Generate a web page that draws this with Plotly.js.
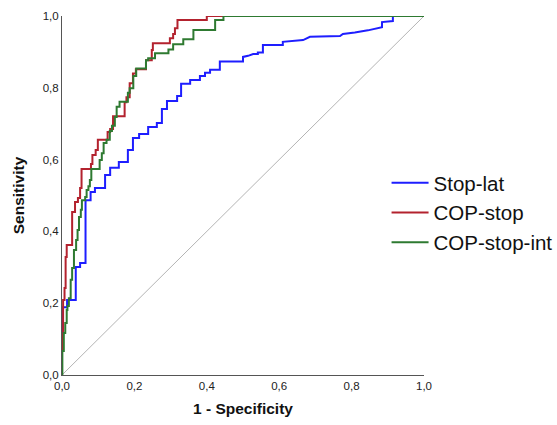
<!DOCTYPE html>
<html>
<head>
<meta charset="utf-8">
<script src="https://cdn.plot.ly/plotly-3.0.1.min.js"></script>
<style>html,body{margin:0;padding:0;background:#fff;}#chart{width:557px;height:425px;}</style>
</head>
<body>
<div id="chart"></div>
<script>
// Stop-lat (blue)
var stopLatX = [0,0,0.014,0.014,0.038,0.038,0.050,0.050,0.065,0.065,0.079,0.079,0.091,0.091,0.119,0.119,0.133,0.133,0.157,0.157,0.182,0.182,0.196,0.196,0.213,0.213,0.238,0.238,0.262,0.262,0.276,0.276,0.290,0.290,0.318,0.318,0.329,0.329,0.354,0.354,0.381,0.381,0.395,0.395,0.409,0.409,0.436,0.436,0.500,0.500,0.514,0.528,0.541,0.541,0.555,0.555,0.610,0.610,0.666,0.685,0.768,0.776,0.809,0.845,0.884,0.884,0.914,0.914,1];
var stopLatY = [0,0.189,0.189,0.209,0.209,0.301,0.301,0.312,0.312,0.487,0.487,0.510,0.510,0.521,0.521,0.557,0.557,0.577,0.577,0.593,0.593,0.627,0.627,0.660,0.660,0.671,0.671,0.691,0.691,0.702,0.702,0.741,0.741,0.763,0.763,0.777,0.777,0.811,0.811,0.822,0.822,0.833,0.833,0.842,0.842,0.850,0.850,0.873,0.873,0.886,0.889,0.894,0.894,0.898,0.898,0.919,0.919,0.928,0.933,0.942,0.944,0.950,0.954,0.960,0.969,0.983,0.986,1,1];

// COP-stop (red)
var copStopX = [0,0,0.003,0.003,0.007,0.007,0.010,0.010,0.013,0.013,0.028,0.028,0.036,0.036,0.044,0.044,0.050,0.050,0.054,0.054,0.080,0.080,0.084,0.084,0.093,0.093,0.099,0.099,0.126,0.126,0.133,0.133,0.141,0.141,0.173,0.173,0.178,0.178,0.187,0.187,0.196,0.196,0.204,0.204,0.232,0.232,0.248,0.248,0.251,0.251,0.298,0.298,0.307,0.307,0.312,0.312,0.319,0.319,0.400,0.400,1];
var copStopY = [0,0.111,0.111,0.209,0.209,0.242,0.242,0.329,0.329,0.362,0.362,0.454,0.454,0.482,0.482,0.493,0.493,0.521,0.521,0.574,0.574,0.588,0.588,0.613,0.613,0.627,0.627,0.655,0.655,0.677,0.677,0.685,0.685,0.721,0.721,0.760,0.760,0.774,0.774,0.813,0.813,0.840,0.840,0.852,0.852,0.877,0.877,0.905,0.905,0.924,0.924,0.938,0.938,0.950,0.950,0.966,0.966,0.989,0.989,1,1];

// COP-stop-int (green)
var copStopIntX = [0,0.001,0.001,0.005,0.005,0.009,0.009,0.013,0.013,0.015,0.015,0.019,0.019,0.024,0.024,0.028,0.028,0.033,0.033,0.039,0.039,0.043,0.043,0.047,0.047,0.052,0.052,0.055,0.055,0.064,0.064,0.068,0.068,0.073,0.073,0.077,0.077,0.081,0.081,0.104,0.104,0.110,0.110,0.115,0.115,0.123,0.123,0.132,0.132,0.138,0.138,0.146,0.146,0.151,0.151,0.159,0.159,0.182,0.182,0.187,0.187,0.197,0.197,0.205,0.205,0.232,0.232,0.238,0.238,0.257,0.257,0.294,0.294,0.307,0.307,0.335,0.335,0.363,0.363,0.423,0.423,0.446,0.446,1];
var copStopIntY = [0,0,0.067,0.067,0.117,0.117,0.145,0.145,0.181,0.181,0.192,0.192,0.214,0.214,0.265,0.265,0.298,0.298,0.348,0.348,0.376,0.376,0.404,0.404,0.440,0.440,0.460,0.460,0.487,0.487,0.496,0.496,0.515,0.515,0.526,0.526,0.543,0.543,0.574,0.574,0.599,0.599,0.618,0.618,0.646,0.646,0.655,0.655,0.680,0.680,0.694,0.694,0.719,0.719,0.747,0.747,0.761,0.761,0.786,0.786,0.799,0.799,0.833,0.833,0.854,0.854,0.877,0.877,0.882,0.882,0.896,0.896,0.907,0.907,0.921,0.921,0.935,0.935,0.961,0.961,0.989,0.989,1,1];

var refX = [0,1];
var refY = [0,1];
var tickVals = [0,0.2,0.4,0.6,0.8,1.0];
var tickText = ["0,0","0,2","0,4","0,6","0,8","1,0"];

var font = "Liberation Sans, Arial, sans-serif";

var traces = [
  {x: refX, y: refY, mode: "lines", line: {color: "#b4b4b4", width: 1}, showlegend: false, hoverinfo: "skip"},
  {x: stopLatX, y: stopLatY, mode: "lines", name: "Stop-lat", legendgroup: "a", line: {color: "#1e1eff", width: 2}},
  {x: copStopX, y: copStopY, mode: "lines", name: "COP-stop", legendgroup: "b", line: {color: "#b3222e", width: 2}},
  {x: copStopIntX, y: copStopIntY, mode: "lines", name: "COP-stop-int", legendgroup: "c", line: {color: "#2e7a31", width: 2}}
];

var axisCommon = {
  range: [0, 1], showgrid: false, zeroline: false, showline: true, automargin: false,
  linecolor: "#555555", linewidth: 1, ticks: "", tickvals: tickVals, ticktext: tickText,
  tickfont: {family: font, size: 11.5, color: "#222"}, fixedrange: true
};

var layout = {
  width: 557, height: 425,
  margin: {l: 62, r: 133, t: 16, b: 50, autoexpand: false},
  paper_bgcolor: "#ffffff", plot_bgcolor: "#ffffff",
  showlegend: true,
  legend: {xref: "container", yref: "container", x: 0.694, y: 0.5, xanchor: "left", yanchor: "middle", bgcolor: "rgba(0,0,0,0)",
           font: {family: font, size: 20.5, color: "#111"}, tracegroupgap: 8, traceorder: "normal", itemwidth: 37},
  xaxis: Object.assign({}, axisCommon, {title: {text: "1 - Specificity", font: {family: font, size: 15.5, color: "#111", weight: "bold"}, standoff: 12}}),
  yaxis: Object.assign({}, axisCommon, {title: {text: "Sensitivity", font: {family: font, size: 15.5, color: "#111", weight: "bold"}, standoff: 14}})
};

Plotly.newPlot("chart", traces, layout, {displayModeBar: false, staticPlot: true});
</script>
</body>
</html>
